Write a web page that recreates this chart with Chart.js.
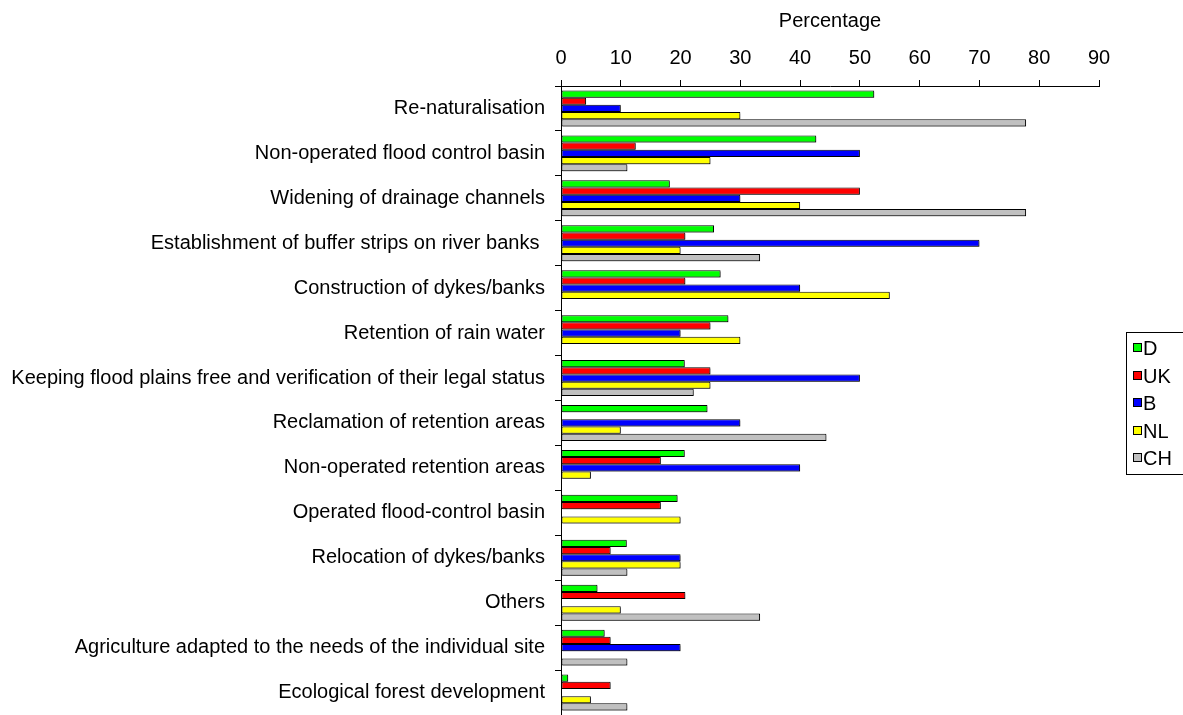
<!DOCTYPE html>
<html>
<head>
  <meta charset="utf-8">
  <title>Percentage</title>
  <script src="https://cdn.jsdelivr.net/npm/chart.js@4.4.0/dist/chart.umd.min.js"></script>
  <style>
    html, body {
      margin: 0;
      padding: 0;
      background: #fff;
    }
    #wrap {
      position: relative;
      width: 1183px;
      height: 715px;
    }
  </style>
</head>
<body>
  <div id="wrap">
    <canvas id="chart" width="1183" height="715"></canvas>
  </div>
  <script>
    // measures, top to bottom
    const measures = [
      'Re-naturalisation',
      'Non-operated flood control basin',
      'Widening of drainage channels',
      'Establishment of buffer strips on river banks ',
      'Construction of dykes/banks',
      'Retention of rain water',
      'Keeping flood plains free and verification of their legal status',
      'Reclamation of retention areas',
      'Non-operated retention areas',
      'Operated flood-control basin',
      'Relocation of dykes/banks',
      'Others',
      'Agriculture adapted to the needs of the individual site',
      'Ecological forest development'
    ];

    // percentage per country (null = no bar)
    const valD  = [52.4, 42.7, 18.2, 25.6, 26.7, 28.0, 20.7, 24.5, 20.7, 19.5, 11.0, 6.1, 7.3, 1.2];
    const valUK = [4.2, 12.5, 50, 20.8, 20.8, 25, 25, null, 16.7, 16.7, 8.3, 20.8, 8.3, 8.3];
    const valB  = [10, 50, 30, 70, 40, 20, 50, 30, 40, null, 20, null, 20, null];
    const valNL = [30, 25, 40, 20, 55, 30, 25, 10, 5, 20, 20, 10, null, 5];
    const valCH = [77.8, 11.1, 77.8, 33.3, null, null, 22.2, 44.4, null, null, 11.1, 33.3, 11.1, 11.1];

    const countries = ['D', 'UK', 'B', 'NL', 'CH'];
    const colors = ['#00ff00', '#ff0000', '#0000ff', '#ffff00', '#c0c0c0'];
    const xTicks = [0, 10, 20, 30, 40, 50, 60, 70, 80, 90];

    const FONT = '"Liberation Sans", Arial, sans-serif';
    const SIZE = 20;

    const series = [valD, valUK, valB, valNL, valCH];
    const datasets = series.map((vals, i) => ({
      label: countries[i],
      data: vals,
      backgroundColor: colors[i],
      borderColor: '#000',
      borderWidth: 1,
      borderSkipped: false,
      categoryPercentage: 0.8,
      barPercentage: 1.0
    }));

    // light drop shadow under the bars
    const barShadow = {
      id: 'barShadow',
      beforeDatasetsDraw(chart) {
        const c = chart.ctx;
        c.save();
        c.shadowColor = 'rgba(0,0,0,0.35)';
        c.shadowOffsetX = 1.5;
        c.shadowOffsetY = 1.5;
        c.shadowBlur = 0;
      },
      afterDatasetsDraw(chart) {
        chart.ctx.restore();
      }
    };

    // boxed legend on the right
    const boxLegend = {
      id: 'boxLegend',
      afterDraw(chart) {
        const c = chart.ctx;
        const left = 1126, top = 332, step = 27.5;
        c.save();
        c.strokeStyle = '#000';
        c.lineWidth = 1;
        c.strokeRect(left + 0.5, top + 0.5, 80, 142);
        c.font = SIZE + 'px ' + FONT;
        c.textBaseline = 'middle';
        chart.data.datasets.forEach((ds, i) => {
          const y = Math.round(top + 16 + i * step);
          c.fillStyle = ds.backgroundColor;
          c.fillRect(left + 7, y - 5, 9, 9);
          c.strokeStyle = '#000';
          c.strokeRect(left + 7.5, y - 4.5, 8, 8);
          c.fillStyle = '#000';
          c.fillText(ds.label, left + 17, y + 1);
        });
        c.restore();
      }
    };

    new Chart(document.getElementById('chart'), {
      type: 'bar',
      data: { labels: measures, datasets: datasets },
      options: {
        indexAxis: 'y',
        responsive: false,
        animation: false,
        events: [],
        layout: { padding: { left: 0, right: 84, top: 0, bottom: 0 } },
        plugins: {
          legend: { display: false },
          tooltip: { enabled: false }
        },
        scales: {
          x: {
            position: 'top',
            min: 0,
            max: 90,
            afterBuildTicks: s => { s.ticks = xTicks.map(v => ({ value: v })); },
            afterFit: s => { s.height = 86; },
            ticks: {
              color: '#000',
              padding: 10,
              font: { family: FONT, size: SIZE }
            },
            grid: { drawOnChartArea: false, tickLength: 6, color: '#000' },
            border: { display: true, color: '#000' },
            title: {
              display: true,
              text: 'Percentage',
              color: '#000',
              padding: { top: 9, bottom: 0 },
              font: { family: FONT, size: SIZE }
            }
          },
          y: {
            afterFit: s => { s.width = 561; s.paddingTop = 0; s.paddingBottom = 0; },
            ticks: {
              color: '#000',
              padding: 10,
              autoSkip: false,
              font: { family: FONT, size: SIZE }
            },
            grid: { offset: true, drawOnChartArea: false, tickLength: 6, color: '#000' },
            border: { display: true, color: '#000' }
          }
        }
      },
      plugins: [barShadow, boxLegend]
    });
  </script>
</body>
</html>
